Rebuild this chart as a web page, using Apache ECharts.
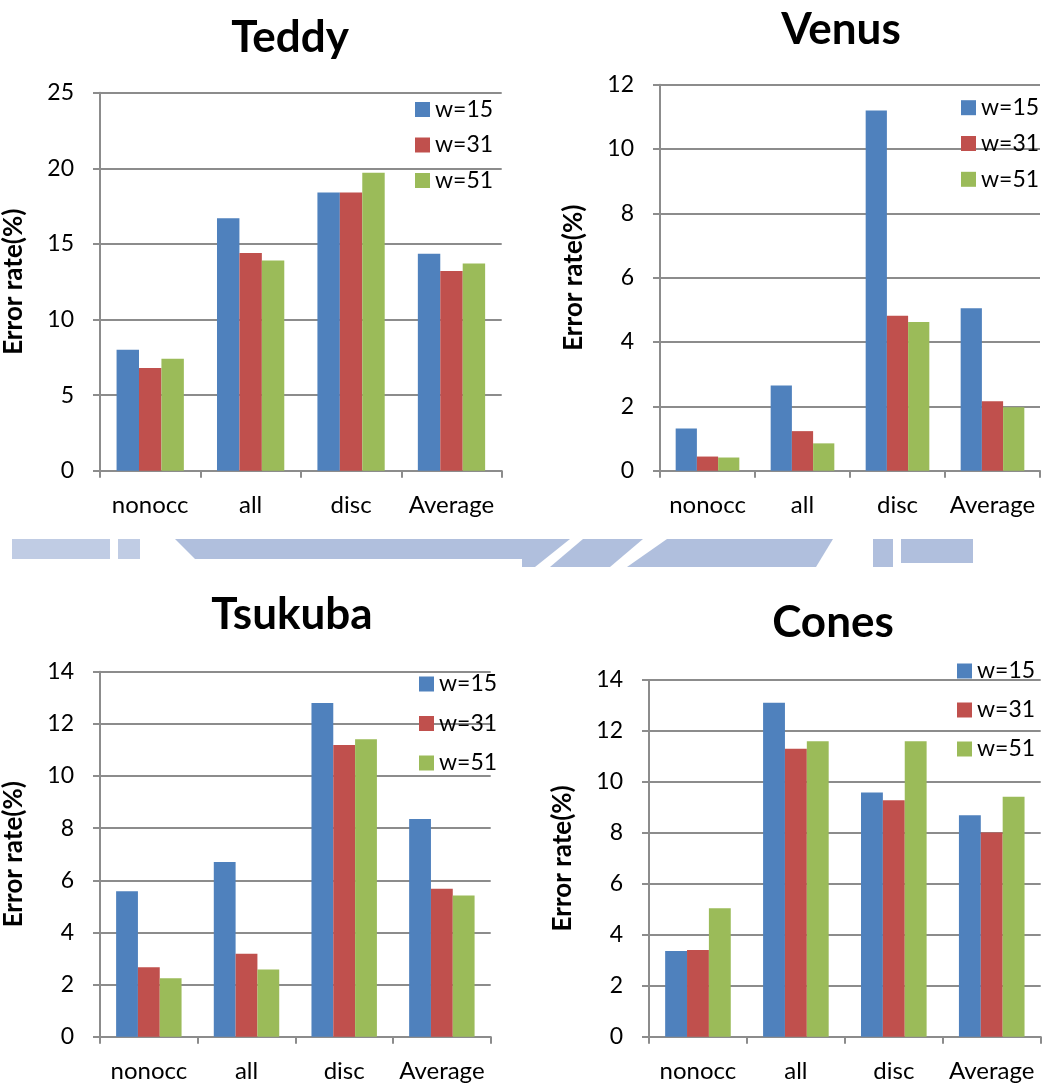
<!DOCTYPE html>
<html>
<head>
<meta charset="utf-8">
<title>Error rate by window size</title>
<script src="https://cdn.jsdelivr.net/npm/echarts@6/dist/echarts.min.js"></script>
<style>
  html, body { margin: 0; padding: 0; background: #ffffff; }
  #chart { width: 1043px; height: 1086px; }
</style>
</head>
<body>
<div id="chart"></div>
<script>
// Categories shared by all four data sets
const categories = ['nonocc', 'all', 'disc', 'Average'];
const seriesNames = ['w=15', 'w=31', 'w=51'];

// Teddy
const teddyW15 = [8.0, 16.7, 18.4, 14.35];
const teddyW31 = [6.8, 14.4, 18.4, 13.2];
const teddyW51 = [7.4, 13.9, 19.7, 13.7];

// Venus
const venusW15 = [1.31, 2.65, 11.2, 5.05];
const venusW31 = [0.44, 1.23, 4.82, 2.16];
const venusW51 = [0.41, 0.85, 4.62, 1.97];

// Tsukuba
const tsukubaW15 = [5.58, 6.70, 12.8, 8.35];
const tsukubaW31 = [2.66, 3.18, 11.19, 5.67];
const tsukubaW51 = [2.24, 2.58, 11.41, 5.42];

// Cones
const conesW15 = [3.36, 13.11, 9.58, 8.69];
const conesW31 = [3.40, 11.30, 9.28, 8.01];
const conesW51 = [5.04, 11.6, 11.6, 9.42];

// Y axis ranges (max, interval) per panel
const yMax = [25, 12, 14, 14];
const yStep = [5, 2, 2, 2];

const panelTitles = ['Teddy', 'Venus', 'Tsukuba', 'Cones'];
const panelData = [
  [teddyW15, teddyW31, teddyW51],
  [venusW15, venusW31, venusW51],
  [tsukubaW15, tsukubaW31, tsukubaW51],
  [conesW15, conesW31, conesW51]
];

const colors = ['#4f81bd', '#c0504d', '#9bbb59'];
const FONT = 'Lato, "Noto Sans", sans-serif';
const AXIS_GREY = '#8c8c8c';

// Layout of each panel
const grids = [
  { left: 100, top: 92.7, width: 401.7, height: 378 },
  { left: 660, top: 84.7, width: 380, height: 386 },
  { left: 99.3, top: 671.7, width: 391.4, height: 365 },
  { left: 649, top: 680, width: 391.7, height: 356.7 }
];
const titlePos = [
  { x: 285, y: 11 },
  { x: 836, y: 3 },
  { x: 287, y: 588 },
  { x: 828, y: 596 }
];
const legendPos = [
  { left: 410, top: 93, gap: 12.5 },
  { left: 956, top: 91.2, gap: 12.8 },
  { left: 414, top: 667.5, gap: 16.5 },
  { left: 952, top: 654.5, gap: 16 }
];

const option = {
  backgroundColor: '#ffffff',
  animation: false,
  color: colors,
  title: panelTitles.map((t, i) => ({
    text: t,
    left: titlePos[i].x,
    top: titlePos[i].y,
    textAlign: 'center',
    textStyle: { fontFamily: FONT, fontSize: 44, fontWeight: 'bold', color: '#000' }
  })),
  legend: legendPos.map(p => ({
    data: seriesNames,
    orient: 'vertical',
    left: p.left,
    top: p.top,
    itemGap: p.gap,
    itemWidth: 15,
    itemHeight: 15,
    icon: 'rect',
    selectedMode: false,
    textStyle: { fontFamily: FONT, fontSize: 23, color: '#000' }
  })),
  grid: grids.map(g => Object.assign({ containLabel: false }, g)),
  xAxis: grids.map((g, i) => ({
    type: 'category',
    gridIndex: i,
    data: categories,
    axisLine: { lineStyle: { color: AXIS_GREY, width: 2 } },
    axisTick: { show: true, length: 7, lineStyle: { color: AXIS_GREY, width: 2 } },
    axisLabel: { interval: 0, fontFamily: FONT, fontSize: 24, color: '#000', margin: 23 }
  })),
  yAxis: grids.map((g, i) => ({
    type: 'value',
    gridIndex: i,
    min: 0,
    max: yMax[i],
    interval: yStep[i],
    name: 'Error rate(%)',
    nameLocation: 'middle',
    nameGap: 73,
    nameTextStyle: { fontFamily: FONT, fontSize: 26, fontWeight: 'bold', color: '#000' },
    axisLine: { show: true, lineStyle: { color: AXIS_GREY, width: 2 } },
    axisTick: { show: true, length: 7, lineStyle: { color: AXIS_GREY, width: 2 } },
    splitLine: { show: true, lineStyle: { color: AXIS_GREY, width: 2 } },
    axisLabel: { fontFamily: FONT, fontSize: 23, color: '#000', margin: 26 }
  })),
  series: [],
  graphic: []
};

panelData.forEach((sets, i) => {
  sets.forEach((vals, k) => {
    option.series.push({
      type: 'bar',
      name: seriesNames[k],
      xAxisIndex: i,
      yAxisIndex: i,
      data: vals,
      barGap: '0%',
      barCategoryGap: '33%',
      itemStyle: { color: colors[k] },
      z: 3
    });
  });
});

// Faint banner strip between the two rows
const band = '#b0bfdd';
option.graphic = [
  { type: 'rect', shape: { x: 12, y: 539, width: 98, height: 20 }, style: { fill: band, opacity: 0.8 }, silent: true },
  { type: 'rect', shape: { x: 118, y: 539, width: 22, height: 20 }, style: { fill: band, opacity: 0.8 }, silent: true },
  { type: 'polygon', shape: { points: [[175, 539], [522, 539], [522, 559], [195, 559]] }, style: { fill: band }, silent: true },
  { type: 'polygon', shape: { points: [[522, 539], [570, 539], [535, 567], [522, 567]] }, style: { fill: band }, silent: true },
  { type: 'polygon', shape: { points: [[583, 539], [643, 539], [610, 567], [550, 567]] }, style: { fill: band }, silent: true },
  { type: 'polygon', shape: { points: [[667, 539], [833, 539], [816, 567], [627, 567]] }, style: { fill: band }, silent: true },
  { type: 'rect', shape: { x: 873, y: 539, width: 20, height: 28 }, style: { fill: band }, silent: true },
  { type: 'rect', shape: { x: 901, y: 539, width: 72, height: 24 }, style: { fill: band }, silent: true }
];

const chart = echarts.init(document.getElementById('chart'), null, { renderer: 'canvas' });
chart.setOption(option);
</script>
</body>
</html>
